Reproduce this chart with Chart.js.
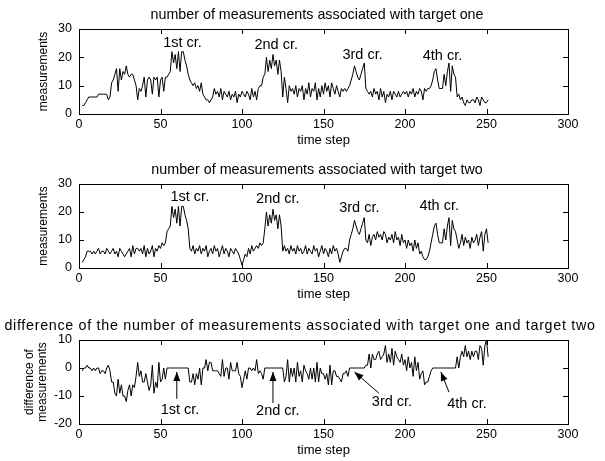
<!DOCTYPE html>
<html>
<head>
<meta charset="utf-8">
<script src="https://cdn.jsdelivr.net/npm/chart.js@4"></script>
<style>
  html, body { margin: 0; padding: 0; background: #fff; }
  .panel { position: absolute; left: 0; }
</style>
</head>
<body>
<div class="panel" style="top:0px"><canvas id="c1" width="605" height="153"></canvas></div>
<div class="panel" style="top:154px"><canvas id="c2" width="605" height="153"></canvas></div>
<div class="panel" style="top:308px"><canvas id="c3" width="605" height="153"></canvas></div>
<script>
// primer paso de tiempo de las series
const firstStep = 2;

// mediciones asociadas al objetivo uno (t = 2..251)
const targetOne = [
  3,3,4,5,6,6,6,6,6,6,
  7,7,7,7,7,7,5,6,11,12,
  14,16,8,16,12,15,14,17,14,13,
  14,14,12,10,5,9,8,10,13,6,
  12,13,12,7,13,12,13,6,12,13,
  8,13,13,14,15,22,18,21,16,22,
  15,22,22,19,17,14,12,11,10,11,
  9,10,8,11,7,6,5,5,4,5,
  6,9,7,8,6,9,5,8,7,6,
  8,5,7,6,8,4,7,6,8,7,
  6,8,7,5,9,6,8,5,9,10,
  10,13,14,20,15,19,16,21,17,19,
  14,19,15,6,13,9,4,10,8,9,
  7,10,6,9,8,10,5,9,7,11,
  6,9,8,11,5,9,6,10,7,11,
  8,10,6,11,9,7,10,8,6,9,
  8,9,8,9,10,12,14,17,15,13,
  12,14,16,18,9,8,7,8,6,9,
  7,8,5,9,6,8,4,7,6,8,
  5,8,7,6,8,6,7,8,7,8,
  6,8,7,9,6,8,7,9,8,5,
  9,8,9,9,10,12,15,16,12,9,
  9,9,14,10,15,18,8,17,14,13,
  6,7,5,6,4,3,5,4,4,5,
  5,4,6,5,3,6,5,4,4,5
];

// mediciones asociadas al objetivo dos
const targetTwo = [
  2,3,4,6,6,6,5,6,5,6,
  7,5,6,6,5,7,6,5,6,7,
  5,6,4,7,6,5,4,5,6,7,
  4,8,5,7,7,6,7,5,8,4,
  7,5,6,8,4,7,6,8,7,9,
  8,9,13,14,15,22,18,21,16,22,
  15,22,22,19,17,14,7,6,8,5,
  7,6,8,5,7,6,8,4,6,7,
  5,8,6,7,4,6,8,5,7,6,
  4,7,6,5,7,6,5,3,1,3,
  5,4,7,5,8,6,7,8,7,9,
  8,9,14,20,15,19,16,21,17,19,
  14,19,15,6,8,6,7,5,8,6,
  7,5,8,6,7,5,6,8,5,7,
  6,5,8,6,7,4,6,8,5,7,
  6,4,7,5,8,6,7,5,2,4,
  6,7,7,6,10,12,14,17,15,13,
  12,14,16,18,10,9,12,8,11,12,
  10,13,11,12,10,13,12,9,11,10,
  12,9,13,10,11,8,12,9,10,7,
  10,8,9,6,10,7,9,5,6,4,
  3,3,4,6,9,12,15,16,12,9,
  9,9,14,10,15,18,8,17,14,13,
  10,7,9,12,8,11,9,10,7,11,
  9,10,12,8,11,13,6,12,14,9
];

// diferencia entre ambos objetivos
const difference = [
  -1,0,0,1,0,0,-1,0,-1,0,
  0,-2,-1,-1,-2,0,1,-1,-5,-5,
  -9,-10,-4,-9,-6,-10,-10,-12,-8,-6,
  -10,-6,-7,-3,2,-3,-1,-5,-5,-2,
  -5,-8,-6,1,-9,-5,-7,2,-5,-4,
  0,-4,0,0,0,0,0,0,0,0,
  0,0,0,0,0,0,-5,-5,-2,-6,
  -2,-4,0,-6,0,0,3,-1,2,2,
  -1,-1,-1,-1,-2,-3,3,-3,0,0,
  -4,2,-1,-1,-1,2,-2,-3,-7,-4,
  -1,-4,0,0,-1,0,-1,3,-2,-1,
  -2,-4,0,0,0,0,0,0,0,0,
  0,0,0,0,-5,-3,3,-5,0,-3,
  0,-5,2,-3,-1,-5,1,-1,-2,-4,
  0,-4,0,-5,2,-5,0,-2,-2,-4,
  -2,-6,1,-6,-1,-1,-3,-3,-4,-5,
  -2,-2,-1,-3,0,0,0,0,0,0,
  0,0,0,0,1,1,5,0,5,3,
  3,5,6,3,4,5,8,2,5,2,
  7,1,6,4,3,2,5,1,3,-1,
  4,0,2,-3,4,-1,2,-4,-2,-1,
  -6,-5,-5,-3,-1,0,0,0,0,0,
  0,0,0,0,0,0,0,0,0,0,
  4,0,4,6,4,8,4,6,3,6,
  4,6,6,3,8,7,1,8,10,4
];

// etiquetas de los cruces
const crossNames = ['1st cr.', '2nd cr.', '3rd cr.', '4th cr.'];
const oneLabelX = [63.5, 121, 174, 223];
const oneLabelY = [25, 24.4, 21, 20.5];
const twoLabelX = [68, 122, 172, 221];
const twoLabelY = [25.5, 24.5, 21.5, 22];
const diffLabelX = [62, 122, 192, 238];
const diffLabelY = [-15, -15.5, -12, -13];
const arrowTailX = [60, 119, 184, 227];
const arrowTailY = [-11, -12.5, -9, -8.6];
const arrowHeadX = [60, 119, 169, 222];
const arrowHeadY = [-1.4, -1.4, -1.4, -1.4];

const fontFamily = "'Liberation Sans', Arial, sans-serif";

// caja, marcas interiores, titulo y anotaciones
const boxTicks = {
  id: 'boxTicks',
  afterDraw(chart, args, opts) {
    const { ctx, chartArea: a, scales: { x, y } } = chart;
    ctx.save();
    ctx.strokeStyle = '#000';
    ctx.lineWidth = 1;
    ctx.strokeRect(Math.round(a.left) + 0.5, Math.round(a.top) + 0.5, Math.round(a.width), Math.round(a.height));
    ctx.beginPath();
    x.ticks.forEach(t => {
      const px = Math.round(x.getPixelForValue(t.value)) + 0.5;
      ctx.moveTo(px, a.bottom); ctx.lineTo(px, a.bottom - 5);
      ctx.moveTo(px, a.top); ctx.lineTo(px, a.top + 5);
    });
    y.ticks.forEach(t => {
      const py = Math.round(y.getPixelForValue(t.value)) + 0.5;
      ctx.moveTo(a.left, py); ctx.lineTo(a.left + 5, py);
      ctx.moveTo(a.right, py); ctx.lineTo(a.right - 5, py);
    });
    ctx.stroke();

    ctx.fillStyle = '#000';
    ctx.textAlign = 'center';
    ctx.textBaseline = 'middle';
    ctx.font = '14.3px ' + fontFamily;
    if (opts.titleSpacing) ctx.letterSpacing = opts.titleSpacing;
    ctx.fillText(opts.title, opts.titleCenter, a.top - 14);
    ctx.letterSpacing = '0px';

    ctx.font = '14.5px ' + fontFamily;
    opts.labelX.forEach((lx, i) => {
      ctx.fillText(crossNames[i], x.getPixelForValue(lx), y.getPixelForValue(opts.labelY[i]));
    });

    if (opts.arrows) {
      opts.arrows.tailX.forEach((tx, i) => {
        const x0 = x.getPixelForValue(tx), y0 = y.getPixelForValue(opts.arrows.tailY[i]);
        const x1 = x.getPixelForValue(opts.arrows.headX[i]), y1 = y.getPixelForValue(opts.arrows.headY[i]);
        const ang = Math.atan2(y1 - y0, x1 - x0);
        ctx.beginPath();
        ctx.moveTo(x0, y0); ctx.lineTo(x1, y1);
        ctx.stroke();
        ctx.beginPath();
        ctx.moveTo(x1, y1);
        ctx.lineTo(x1 - 9 * Math.cos(ang) + 3.5 * Math.sin(ang), y1 - 9 * Math.sin(ang) - 3.5 * Math.cos(ang));
        ctx.lineTo(x1 - 9 * Math.cos(ang) - 3.5 * Math.sin(ang), y1 - 9 * Math.sin(ang) + 3.5 * Math.cos(ang));
        ctx.closePath();
        ctx.fill();
      });
    }
    ctx.restore();
  }
};

function makeChart(id, values, cfg) {
  const tickFont = { family: fontFamily, size: 12.5 };
  return new Chart(document.getElementById(id), {
    type: 'line',
    data: {
      datasets: [{
        data: values.map((v, i) => ({ x: firstStep + i, y: v })),
        borderColor: '#000',
        borderWidth: 1,
        pointRadius: 0,
        tension: 0
      }]
    },
    options: {
      responsive: false,
      animation: false,
      layout: { padding: { left: 0, right: 37, top: cfg.top, bottom: 0 } },
      plugins: {
        legend: { display: false },
        tooltip: { enabled: false },
        boxTicks: cfg.notes
      },
      scales: {
        x: {
          type: 'linear', min: 0, max: 300,
          ticks: { stepSize: 50, color: '#000', font: tickFont, padding: 3, maxRotation: 0 },
          grid: { display: false, tickLength: 0 },
          border: { display: false },
          title: { display: true, text: 'time step', color: '#000', font: { family: fontFamily, size: 13 }, padding: { top: 0, bottom: cfg.xTitlePad } },
          afterFit: s => { s.height = cfg.xHeight; }
        },
        y: {
          min: cfg.yMin, max: cfg.yMax,
          ticks: { stepSize: 10, color: '#000', font: tickFont, padding: 7 },
          grid: { display: false, tickLength: 0 },
          border: { display: false },
          title: { display: true, text: cfg.yTitle, color: '#000', font: { family: fontFamily, size: 12, lineHeight: 1.1 }, padding: { top: cfg.yTitlePad, bottom: 0 } },
          afterFit: s => { s.width = 79; }
        }
      }
    },
    plugins: [boxTicks]
  });
}

makeChart('c1', targetOne, {
  top: 29, xHeight: 39, xTitlePad: 5, yMin: 0, yMax: 30,
  yTitle: 'measurements', yTitlePad: 37,
  notes: { title: 'number of measurements associated with target one', titleCenter: 317, labelX: oneLabelX, labelY: oneLabelY }
});

makeChart('c2', targetTwo, {
  top: 30, xHeight: 39, xTitlePad: 5, yMin: 0, yMax: 30,
  yTitle: 'measurements', yTitlePad: 37,
  notes: { title: 'number of measurements associated with target two', titleCenter: 317, labelX: twoLabelX, labelY: twoLabelY }
});

makeChart('c3', difference, {
  top: 32, xHeight: 37, xTitlePad: 3, yMin: -20, yMax: 10,
  yTitle: ['difference of', 'measurements'], yTitlePad: 23,
  notes: {
    title: 'difference of the number of measurements associated with target one and target two',
    titleCenter: 300, titleSpacing: '0.7px',
    labelX: diffLabelX, labelY: diffLabelY,
    arrows: { tailX: arrowTailX, tailY: arrowTailY, headX: arrowHeadX, headY: arrowHeadY }
  }
});
</script>
</body>
</html>
